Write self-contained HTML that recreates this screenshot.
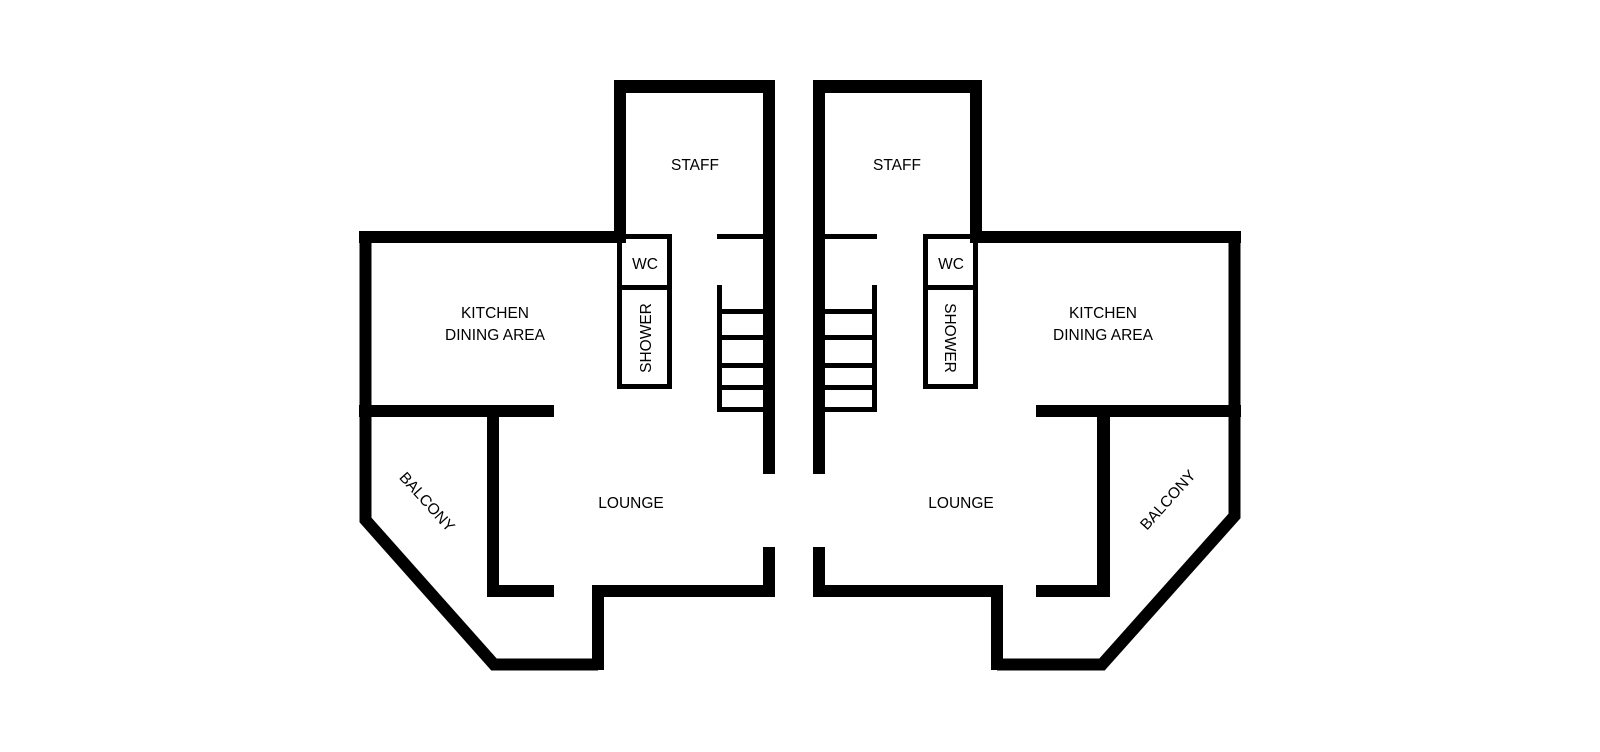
<!DOCTYPE html>
<html><head><meta charset="utf-8"><style>
html,body{margin:0;padding:0;background:#fff;}
svg{display:block;}
text{font-family:"Liberation Sans",sans-serif;font-size:15.5px;fill:#000;}
</style></head><body>
<svg width="1600" height="752" viewBox="0 0 1600 752" xmlns="http://www.w3.org/2000/svg">
<g fill="#000">
<rect x="614" y="80" width="161" height="13"/>
<rect x="614" y="80" width="12" height="163"/>
<rect x="763" y="80" width="12" height="394"/>
<rect x="763" y="547" width="12" height="50"/>
<rect x="359" y="231" width="267" height="12"/>
<rect x="359.5" y="231" width="12" height="289"/>
<rect x="359" y="405" width="195" height="12"/>
<rect x="487" y="405" width="12" height="192"/>
<rect x="487" y="585" width="67" height="12"/>
<rect x="592" y="585" width="183" height="12"/>
<rect x="592" y="585" width="12" height="85"/>
<rect x="617" y="234" width="55" height="5"/>
<rect x="617" y="234" width="5" height="155"/>
<rect x="667" y="234" width="5" height="155"/>
<rect x="617" y="285" width="55" height="5"/>
<rect x="617" y="384" width="55" height="5"/>
<rect x="717" y="234" width="46" height="5"/>
<rect x="717" y="285" width="5" height="127"/>
<rect x="717" y="309" width="46" height="5"/>
<rect x="717" y="335" width="46" height="5"/>
<rect x="717" y="363" width="46" height="5"/>
<rect x="717" y="385" width="46" height="5"/>
<rect x="717" y="407" width="46" height="5"/>
<rect x="813" y="80" width="169" height="13"/>
<rect x="813" y="80" width="12" height="394"/>
<rect x="813" y="547" width="12" height="50"/>
<rect x="970" y="80" width="12" height="163"/>
<rect x="970" y="231" width="271" height="12"/>
<rect x="1228.5" y="231" width="12" height="285"/>
<rect x="1036" y="405" width="205" height="12"/>
<rect x="1097" y="405" width="13" height="192"/>
<rect x="813" y="585" width="190" height="12"/>
<rect x="991" y="585" width="12" height="85"/>
<rect x="1036" y="585" width="74" height="12"/>
<rect x="825" y="234" width="52" height="5"/>
<rect x="872" y="285" width="5" height="127"/>
<rect x="825" y="309" width="52" height="5"/>
<rect x="825" y="335" width="52" height="5"/>
<rect x="825" y="363" width="52" height="5"/>
<rect x="825" y="385" width="52" height="5"/>
<rect x="825" y="407" width="52" height="5"/>
<rect x="923" y="234" width="55" height="5"/>
<rect x="923" y="234" width="5" height="155"/>
<rect x="973" y="234" width="5" height="155"/>
<rect x="923" y="285" width="55" height="5"/>
<rect x="923" y="384" width="55" height="5"/>
</g>
<polyline points="365.5,500 365.5,520 494,664.5 598,664.5" fill="none" stroke="#000" stroke-width="12" stroke-linejoin="miter" stroke-miterlimit="10"/>
<polyline points="1234.5,500 1234.5,516 1102,664.5 997,664.5" fill="none" stroke="#000" stroke-width="12" stroke-linejoin="miter" stroke-miterlimit="10"/>
<text x="695" y="170" text-anchor="middle">STAFF</text>
<text x="897" y="170" text-anchor="middle">STAFF</text>
<text x="645" y="269" text-anchor="middle">WC</text>
<text x="951" y="269" text-anchor="middle">WC</text>
<text transform="translate(651,338) rotate(-90)" text-anchor="middle">SHOWER</text>
<text transform="translate(945,338) rotate(90)" text-anchor="middle">SHOWER</text>
<text x="495" y="318" text-anchor="middle">KITCHEN</text>
<text x="495" y="340" text-anchor="middle">DINING AREA</text>
<text x="1103" y="318" text-anchor="middle">KITCHEN</text>
<text x="1103" y="340" text-anchor="middle">DINING AREA</text>
<text x="631" y="508" text-anchor="middle">LOUNGE</text>
<text x="961" y="508" text-anchor="middle">LOUNGE</text>
<text transform="translate(427,502) rotate(48)" text-anchor="middle" dy="5">BALCONY</text>
<text transform="translate(1168,500) rotate(-48)" text-anchor="middle" dy="5">BALCONY</text>
</svg>
</body></html>
